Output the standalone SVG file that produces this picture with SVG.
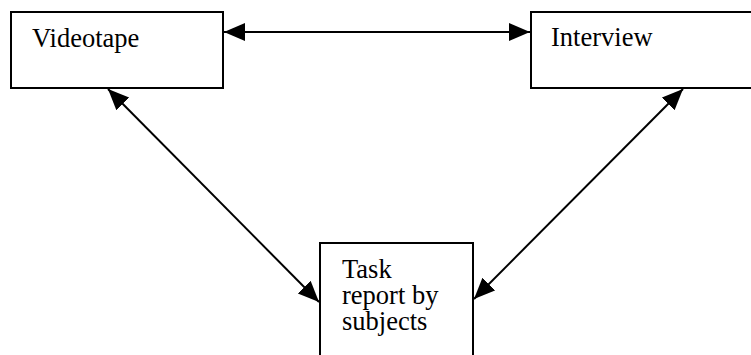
<svg xmlns="http://www.w3.org/2000/svg" width="751" height="355" viewBox="0 0 751 355">
<style>
.box{fill:#fff;stroke:#000;stroke-width:2}
.lbl{font-family:"Liberation Serif","Times New Roman",serif;font-size:26.5px;fill:#000}
.conn{stroke:#000;stroke-width:2;fill:none}
</style>
<defs>
<marker id="ah" markerUnits="userSpaceOnUse" markerWidth="24" markerHeight="20" refX="21" refY="9" orient="auto-start-reverse">
<path d="M0,0 L21,9 L0,18 Z" fill="#000"/>
</marker>
</defs>
<rect width="751" height="355" fill="#fff"/>
<g id="videotape">
<rect class="box" x="11" y="12" width="212" height="76"/>
<text class="lbl" x="32" y="47">Videotape</text>
</g>
<g id="interview">
<rect class="box" x="531" y="12" width="240" height="76"/>
<text class="lbl" x="551" y="46">Interview</text>
</g>
<g id="task">
<rect class="box" x="320" y="243" width="153" height="130"/>
<text class="lbl" x="342" y="278">Task<tspan x="342" dy="26">report by</tspan><tspan x="342" dy="26">subjects</tspan></text>
</g>
<g id="connectors">
<line class="conn" x1="224" y1="32" x2="530" y2="32" marker-start="url(#ah)" marker-end="url(#ah)"/>
<line class="conn" x1="108" y1="89" x2="319" y2="302" marker-start="url(#ah)" marker-end="url(#ah)"/>
<line class="conn" x1="683" y1="89" x2="474" y2="299" marker-start="url(#ah)" marker-end="url(#ah)"/>
</g>
</svg>
